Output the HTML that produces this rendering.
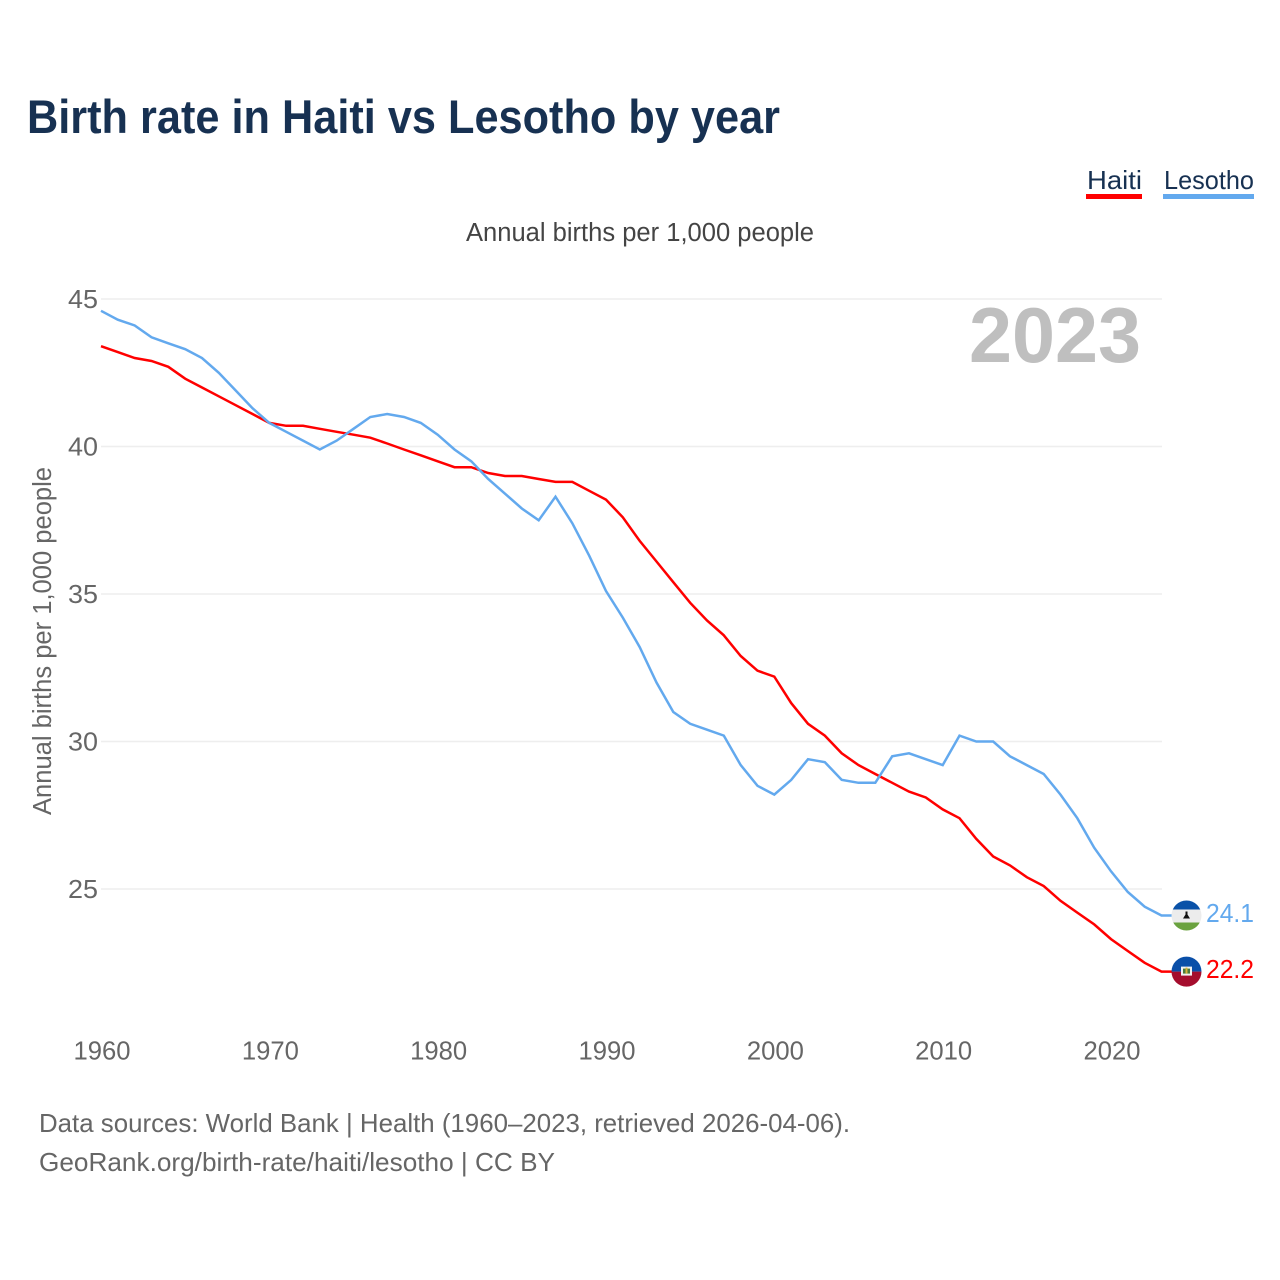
<!DOCTYPE html>
<html lang="en">
<head>
<meta charset="utf-8">
<title>Birth rate in Haiti vs Lesotho by year</title>
<style>
html,body{margin:0;padding:0;background:#fff}
svg{display:block}
text{font-family:"Liberation Sans",sans-serif}
</style>
</head>
<body>
<svg id="chart" xmlns="http://www.w3.org/2000/svg" width="1280" height="1280" viewBox="0 0 1280 1280">
  <rect width="1280" height="1280" fill="#fff"/>
  <text x="27" y="133" font-size="47" font-weight="700" fill="#173152" textLength="753" lengthAdjust="spacingAndGlyphs">Birth rate in Haiti vs Lesotho by year</text>
  <g>
    <text x="1087" y="189" font-size="26" fill="#173152" textLength="55" lengthAdjust="spacingAndGlyphs">Haiti</text>
    <rect x="1086" y="194" width="56" height="5" fill="#ff0000"/>
  </g>
  <g>
    <text x="1164" y="189" font-size="26" fill="#173152" textLength="90" lengthAdjust="spacingAndGlyphs">Lesotho</text>
    <rect x="1163" y="194" width="91" height="5" fill="#63a9ee"/>
  </g>
  <text x="466" y="241" font-size="25.5" fill="#444" textLength="348" lengthAdjust="spacingAndGlyphs">Annual births per 1,000 people</text>
  <text transform="translate(51,815) rotate(-90)" font-size="25.5" fill="#666" textLength="348" lengthAdjust="spacingAndGlyphs">Annual births per 1,000 people</text>
  <g id="grid"></g>
  <g id="yticks"></g>
  <g id="xticks"></g>
  <text x="969" y="362" font-size="78" font-weight="700" fill="#bfbfbf" textLength="172" lengthAdjust="spacingAndGlyphs">2023</text>
  <g id="series"></g>
  <defs>
    <clipPath id="flag-clip-lesotho"><circle id="clip-lesotho" cx="1186.5" r="15"/></clipPath>
    <clipPath id="flag-clip-haiti"><circle id="clip-haiti" cx="1186.5" r="15"/></clipPath>
  </defs>
  <g id="flag-lesotho" clip-path="url(#flag-clip-lesotho)">
    <rect x="1171" y="-16" width="31" height="10" fill="#0a52a8"/>
    <rect x="1171" y="-6" width="31" height="13" fill="#ececec"/>
    <rect x="1171" y="7" width="31" height="10" fill="#6aa23f"/>
    <path d="M1185.5 -4h2v3l2.5 4h-7l2.5-4z" fill="#111"/>
  </g>
  <g id="flag-haiti" clip-path="url(#flag-clip-haiti)">
    <rect x="1171" y="-16" width="31" height="16" fill="#0a4fa8"/>
    <rect x="1171" y="0" width="31" height="16" fill="#a50d2d"/>
    <rect x="1181" y="-5" width="11" height="9" fill="#f2f2f2"/>
    <rect x="1183" y="-3" width="7" height="5" fill="#4c7a3a"/>
    <rect x="1185.5" y="-4" width="2" height="6" fill="#d9b43c"/>
  </g>
  <g id="end-labels"></g>
  <text x="39" y="1132" font-size="26" fill="#666" textLength="811" lengthAdjust="spacingAndGlyphs">Data sources: World Bank | Health (1960–2023, retrieved 2026-04-06).</text>
  <text x="39" y="1171" font-size="26" fill="#666" textLength="516" lengthAdjust="spacingAndGlyphs">GeoRank.org/birth-rate/haiti/lesotho | CC BY</text>
</svg>
<script>
const startYear = 1960;
const haitiValues = [43.4,43.2,43.0,42.9,42.7,42.3,42.0,41.7,41.4,41.1,40.8,40.7,40.7,40.6,40.5,40.4,40.3,40.1,39.9,39.7,39.5,39.3,39.3,39.1,39.0,39.0,38.9,38.8,38.8,38.5,38.2,37.6,36.8,36.1,35.4,34.7,34.1,33.6,32.9,32.4,32.2,31.3,30.6,30.2,29.6,29.2,28.9,28.6,28.3,28.1,27.7,27.4,26.7,26.1,25.8,25.4,25.1,24.6,24.2,23.8,23.3,22.9,22.5,22.2];
const lesothoValues = [44.6,44.3,44.1,43.7,43.5,43.3,43.0,42.5,41.9,41.3,40.8,40.5,40.2,39.9,40.2,40.6,41.0,41.1,41.0,40.8,40.4,39.9,39.5,38.9,38.4,37.9,37.5,38.3,37.4,36.3,35.1,34.2,33.2,32.0,31.0,30.6,30.4,30.2,29.2,28.5,28.2,28.7,29.4,29.3,28.7,28.6,28.6,29.5,29.6,29.4,29.2,30.2,30.0,30.0,29.5,29.2,28.9,28.2,27.4,26.4,25.6,24.9,24.4,24.1];
const yTicks = [45,40,35,30,25];
const xTicks = [1960,1970,1980,1990,2000,2010,2020];

const NS = 'http://www.w3.org/2000/svg';
function xScale(year){ return 101 + (year - 1960) * (1010 / 60); }
function yScale(v){ return 889 - (v - 25) * 29.5; }

const grid = document.getElementById('grid');
const yGroup = document.getElementById('yticks');
yTicks.forEach(function(t){
  const line = document.createElementNS(NS,'line');
  
  
  line.setAttribute('x1', 101);
  line.setAttribute('x2', 1162);
  line.setAttribute('y1', yScale(t));
  line.setAttribute('y2', yScale(t));
  line.setAttribute('stroke', '#eeeeee');
  line.setAttribute('stroke-width', '1.5');
  grid.appendChild(line);
  const label = document.createElementNS(NS,'text');
  
  
  label.setAttribute('x', 68);
  label.setAttribute('y', yScale(t) + 9);
  label.setAttribute('font-size', '25.5');
  label.setAttribute('fill', '#666');
  label.setAttribute('textLength', '30');
  label.setAttribute('lengthAdjust', 'spacingAndGlyphs');
  label.textContent = t;
  yGroup.appendChild(label);
});

const xGroup = document.getElementById('xticks');
xTicks.forEach(function(t){
  const label = document.createElementNS(NS,'text');
  
  
  label.setAttribute('x', xScale(t) - 27.5);
  label.setAttribute('y', 1059.5);
  label.setAttribute('font-size', '25.5');
  label.setAttribute('fill', '#666');
  label.setAttribute('textLength', '57');
  label.setAttribute('lengthAdjust', 'spacingAndGlyphs');
  label.textContent = t;
  xGroup.appendChild(label);
});

function linePath(values){
  const pts = values.map(function(v,i){
    return xScale(startYear + i).toFixed(1) + ',' + yScale(v).toFixed(1);
  });
  const last = values[values.length - 1];
  pts.push('1172,' + yScale(last).toFixed(1));
  return pts.join(' ');
}
const seriesGroup = document.getElementById('series');
const haitiLine = document.createElementNS(NS,'polyline');


haitiLine.setAttribute('points', linePath(haitiValues));
haitiLine.setAttribute('fill', 'none');
haitiLine.setAttribute('stroke', '#ff0000');
haitiLine.setAttribute('stroke-width', '2.5');
seriesGroup.appendChild(haitiLine);
const lesothoLine = document.createElementNS(NS,'polyline');


lesothoLine.setAttribute('points', linePath(lesothoValues));
lesothoLine.setAttribute('fill', 'none');
lesothoLine.setAttribute('stroke', '#63a9ee');
lesothoLine.setAttribute('stroke-width', '2.5');
seriesGroup.appendChild(lesothoLine);

const haitiLast = haitiValues[haitiValues.length - 1];
const lesothoLast = lesothoValues[lesothoValues.length - 1];
document.getElementById('clip-haiti').setAttribute('cy', 0);
document.getElementById('clip-lesotho').setAttribute('cy', 0);
document.getElementById('flag-haiti').setAttribute('transform', 'translate(0,' + yScale(haitiLast).toFixed(1) + ')');
document.getElementById('flag-lesotho').setAttribute('transform', 'translate(0,' + yScale(lesothoLast).toFixed(1) + ')');

const endGroup = document.getElementById('end-labels');
const haitiEnd = document.createElementNS(NS,'text');


haitiEnd.setAttribute('x', 1206);
haitiEnd.setAttribute('y', yScale(haitiLast) + 6.5);
haitiEnd.setAttribute('font-size', '25.5');
haitiEnd.setAttribute('fill', '#ff0000');
haitiEnd.setAttribute('textLength', '48');
haitiEnd.setAttribute('lengthAdjust', 'spacingAndGlyphs');
haitiEnd.textContent = haitiLast.toFixed(1);
endGroup.appendChild(haitiEnd);
const lesothoEnd = document.createElementNS(NS,'text');


lesothoEnd.setAttribute('x', 1206);
lesothoEnd.setAttribute('y', yScale(lesothoLast) + 6.5);
lesothoEnd.setAttribute('font-size', '25.5');
lesothoEnd.setAttribute('fill', '#63a9ee');
lesothoEnd.setAttribute('textLength', '48');
lesothoEnd.setAttribute('lengthAdjust', 'spacingAndGlyphs');
lesothoEnd.textContent = lesothoLast.toFixed(1);
endGroup.appendChild(lesothoEnd);
</script>
</body>
</html>
